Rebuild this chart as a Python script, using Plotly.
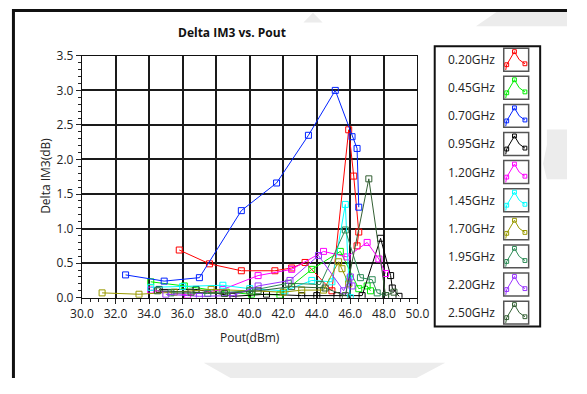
import plotly.graph_objects as go

# page body keeps its default 8px margin; the figure runs from there to the window edge
PAGE_W, PAGE_H = 587, 394
OFF = 8
W, H = PAGE_W - OFF, PAGE_H - OFF

# ---- data: Delta IM3 (dB) versus output power (dBm) per frequency ----
freq_labels = ["0.20GHz", "0.45GHz", "0.70GHz", "0.95GHz", "1.20GHz",
               "1.45GHz", "1.70GHz", "1.95GHz", "2.20GHz", "2.50GHz"]
colors = ["#ff0000", "#00ee00", "#0022ff", "#000000", "#ff00ff",
          "#00ffff", "#999900", "#2e8b57", "#9933ff", "#335f33"]

pout_020 = [35.8, 37.6, 39.5, 41.5, 42.5, 43.3, 44.9, 45.9, 46.2, 46.5, 46.4]
dim3_020 = [0.69, 0.49, 0.39, 0.39, 0.43, 0.51, 0.10, 2.43, 1.76, 0.95, 0.75]

pout_045 = [34.1, 36.1, 38.6, 40.1, 41.8, 43.7, 45.4, 46.5, 47.0, 47.2]
dim3_045 = [0.23, 0.17, 0.08, 0.05, 0.04, 0.41, 0.67, 0.13, 0.17, 0.10]

pout_070 = [32.6, 34.9, 37.0, 39.5, 41.6, 43.5, 45.1, 46.1, 46.4, 46.5]
dim3_070 = [0.33, 0.24, 0.29, 1.26, 1.66, 2.35, 3.00, 2.33, 2.16, 1.31]

pout_095 = [34.6, 36.8, 39.0, 41.0, 43.1, 44.0, 45.2, 46.7, 47.8, 48.4, 48.5, 48.9]
dim3_095 = [0.12, 0.12, 0.02, 0.05, 0.03, 0.03, 0.03, 0.03, 0.86, 0.32, 0.14, 0.02]

pout_120 = [34.1, 36.3, 38.4, 40.5, 42.5, 44.4, 45.8, 47.0, 47.7, 48.1]
dim3_120 = [0.11, 0.04, 0.12, 0.32, 0.41, 0.67, 0.59, 0.80, 0.56, 0.35]

pout_145 = [34.1, 36.0, 38.4, 40.0, 42.1, 43.7, 44.9, 45.7, 45.9, 46.0]
dim3_145 = [0.15, 0.16, 0.18, 0.13, 0.10, 0.25, 0.23, 1.35, 0.27, 0.00]

pout_170 = [31.2, 33.4, 35.5, 37.7, 40.0, 42.0, 43.1, 44.4, 45.3, 45.5, 45.9]
dim3_170 = [0.07, 0.05, 0.08, 0.12, 0.10, 0.08, 0.11, 0.11, 0.52, 0.42, 0.20]

pout_195 = [35.3, 37.5, 40.0, 42.3, 44.2, 45.7, 46.6, 47.3, 47.6, 48.1]
dim3_195 = [0.07, 0.06, 0.10, 0.21, 0.19, 0.98, 0.29, 0.26, 0.07, 0.03]

pout_220 = [35.0, 37.0, 39.0, 40.5, 42.4, 44.1, 45.6, 46.0, 46.1]
dim3_220 = [0.05, 0.02, 0.03, 0.17, 0.25, 0.61, 0.10, 0.30, 0.17]

pout_250 = [34.5, 36.5, 38.5, 40.5, 42.5, 44.5, 45.7, 47.1, 48.1, 48.6]
dim3_250 = [0.10, 0.08, 0.06, 0.10, 0.16, 0.14, 0.03, 1.72, 0.03, 0.08]

series_x = [pout_020, pout_045, pout_070, pout_095, pout_120,
            pout_145, pout_170, pout_195, pout_220, pout_250]
series_y = [dim3_020, dim3_045, dim3_070, dim3_095, dim3_120,
            dim3_145, dim3_170, dim3_195, dim3_220, dim3_250]

x_ticks = [30, 32, 34, 36, 38, 40, 42, 44, 46, 48, 50]
y_ticks = [0.0, 0.5, 1.0, 1.5, 2.0, 2.5, 3.0, 3.5]


def px(x):
    """page pixel x -> paper fraction"""
    return (x - OFF) / W


def py(y):
    """page pixel y (from top) -> paper fraction"""
    return 1 - (y - OFF) / H


FONT = "Open Sans"
TXT = "#222"

fig = go.Figure()
for name, col, xs, ys in zip(freq_labels, colors, series_x, series_y):
    fig.add_trace(go.Scatter(
        x=xs, y=ys, name=name, mode="lines+markers",
        line=dict(color=col, width=1),
        marker=dict(symbol="square-open", size=6, color=col, line=dict(width=1)),
        showlegend=False,
    ))

axis_common = dict(showline=True, linecolor="#111", linewidth=1.3, mirror=True,
                   showgrid=True, gridcolor="#1a1a1a", gridwidth=1.5,
                   zeroline=False, ticks="outside", ticklen=5, tickcolor="#222",
                   tickfont=dict(family=FONT, size=12, color=TXT))

fig.update_layout(
    width=W, height=H,
    margin=dict(l=0, r=0, t=0, b=0),
    paper_bgcolor="white", plot_bgcolor="white",
    xaxis=dict(domain=[px(81), px(431)], range=[30, 50],
               tickvals=x_ticks, tickformat=".1f",
               minor=dict(dtick=0.5, ticks="outside", ticklen=3, tickcolor="#222", showgrid=False),
               **axis_common),
    yaxis=dict(domain=[py(310), py(57)], range=[0, 3.5],
               tickvals=y_ticks, tickformat=".1f",
               minor=dict(dtick=0.1, ticks="outside", ticklen=3, tickcolor="#222", showgrid=False),
               **axis_common),
)

shapes = []
annotations = []

# faint background marks
bg = "#ececec"
for path in [
    "M {} {} L {} {} L {} {} L {} {} Z".format(px(208), py(378), px(460), py(378), px(430), py(394), px(236), py(394)),
    "M {} {} L {} {} L {} {} L {} {} Z".format(px(492), py(26), px(518), py(8), px(587), py(8), px(587), py(26)),
    "M {} {} L {} {} L {} {} Z".format(px(312), py(22), px(322), py(12), px(332), py(22)),
    "M {} {} L {} {} L {} {} L {} {} L {} {} L {} {} Z".format(
        px(566), py(134), px(587), py(134), px(587), py(186), px(566), py(186), px(562), py(170), px(566), py(150)),
]:
    shapes.append(dict(type="path", xref="paper", yref="paper", path=path,
                       fillcolor=bg, line=dict(width=0), layer="below"))

# outer frame (top and left edges)
shapes.append(dict(type="line", xref="paper", yref="paper",
                   x0=px(8), x1=px(587), y0=py(9.5), y1=py(9.5),
                   line=dict(color="#111", width=3)))
shapes.append(dict(type="line", xref="paper", yref="paper",
                   x0=px(9.5), x1=px(9.5), y0=py(8), y1=py(394),
                   line=dict(color="#111", width=3)))

# legend box
shapes.append(dict(type="rect", xref="paper", yref="paper",
                   x0=px(449), x1=px(559), y0=py(47), y1=py(340),
                   line=dict(color="#111", width=2), fillcolor="white"))

row_h = 29.4
icon_pts = [(0.08, 0.95), (0.12, 0.72), (0.43, 0.15), (0.62, 0.50), (0.85, 0.68)]
icon_marks = [(0.12, 0.72), (0.43, 0.15), (0.85, 0.68)]
for i, (name, col) in enumerate(zip(freq_labels, colors)):
    top = 49 + i * row_h
    bx0, bx1, by0, by1 = 521, 547, top, top + 24
    shapes.append(dict(type="rect", xref="paper", yref="paper",
                       x0=px(bx0), x1=px(bx1), y0=py(by0), y1=py(by1),
                       line=dict(color="#555", width=1.5), fillcolor="white"))
    pts = [(bx0 + fx * (bx1 - bx0), by0 + fy * (by1 - by0)) for fx, fy in icon_pts]
    path = "M " + " L ".join("{} {}".format(px(a), py(b)) for a, b in pts)
    shapes.append(dict(type="path", xref="paper", yref="paper", path=path,
                       line=dict(color=col, width=1)))
    for fx, fy in icon_marks:
        cx = bx0 + fx * (bx1 - bx0)
        cy = by0 + fy * (by1 - by0)
        shapes.append(dict(type="rect", xref="paper", yref="paper",
                           x0=px(cx - 2), x1=px(cx + 2), y0=py(cy - 2), y1=py(cy + 2),
                           line=dict(color=col, width=1)))
    annotations.append(dict(text=name, xref="paper", yref="paper",
                            x=px(487), y=py(top + 12), showarrow=False,
                            xanchor="center", yanchor="middle",
                            font=dict(family=FONT, size=12, color=TXT)))

annotations.append(dict(text="<b>Delta IM3 vs. Pout</b>", xref="paper", yref="paper",
                        x=px(237), y=py(33), showarrow=False,
                        xanchor="center", yanchor="middle",
                        font=dict(family=FONT, size=12, color="#111")))
annotations.append(dict(text="Delta IM3(dB)", xref="paper", yref="paper",
                        x=px(43), y=py(183), showarrow=False, textangle=-90,
                        xanchor="center", yanchor="middle",
                        font=dict(family=FONT, size=12, color=TXT)))
annotations.append(dict(text="Pout(dBm)", xref="paper", yref="paper",
                        x=px(256), y=py(352), showarrow=False,
                        xanchor="center", yanchor="middle",
                        font=dict(family=FONT, size=12, color=TXT)))

fig.update_layout(shapes=shapes, annotations=annotations)
fig.write_html("out.html")
